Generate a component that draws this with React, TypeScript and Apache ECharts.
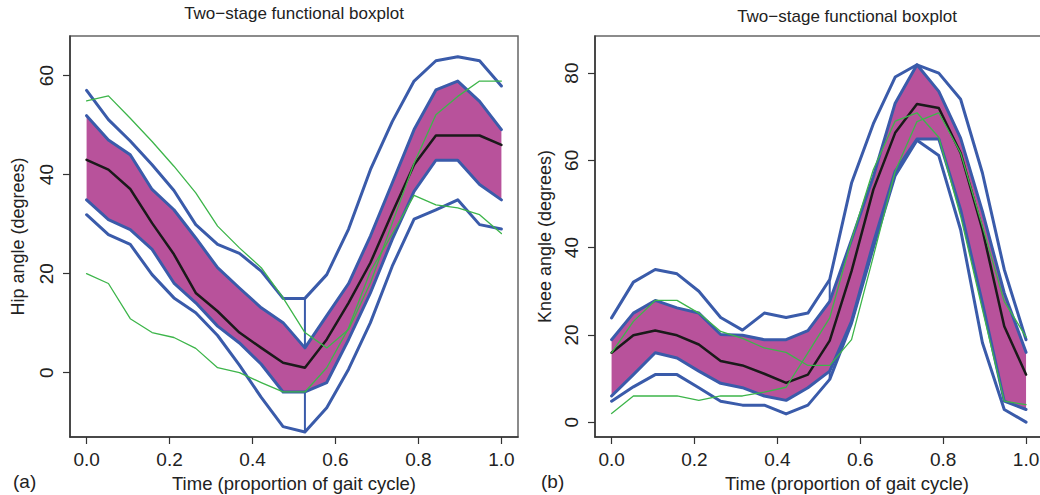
import React, { useEffect, useRef } from "react";
import * as echarts from "echarts";

const timePoints = [0, 0.05263, 0.10526, 0.15789, 0.21053, 0.26316, 0.31579, 0.36842, 0.42105, 0.47368, 0.52632, 0.57895, 0.63158, 0.68421, 0.73684, 0.78947, 0.84211, 0.89474, 0.94737, 1];
const xTicks = [0, 0.2, 0.4, 0.6, 0.8, 1.0];
const hipTicks = [0, 20, 40, 60];
const kneeTicks = [0, 20, 40, 60, 80];
const whiskerIndex = 10;

const hipUpperFence = [57.0, 51.1, 46.8, 42.0, 36.8, 29.9, 25.9, 24.1, 20.5, 15.0, 15.0, 19.8, 29.0, 41.0, 50.7, 58.9, 63.0, 63.8, 63.0, 57.9];
const hipBoxUpper = [51.9, 47.0, 44.0, 37.0, 32.9, 27.2, 21.2, 17.1, 13.1, 10.1, 5.0, 11.5, 18.0, 27.6, 38.3, 49.1, 57.1, 58.9, 54.8, 49.1];
const hipMedian = [43.0, 41.0, 37.1, 30.2, 23.9, 16.1, 12.4, 8.1, 5.0, 2.0, 1.0, 6.7, 14.1, 22.2, 32.3, 42.0, 47.9, 47.9, 47.9, 46.0];
const hipBoxLower = [34.9, 30.9, 28.9, 24.9, 18.1, 14.1, 9.4, 6.0, 1.7, -3.9, -3.9, -2.0, 6.7, 16.1, 26.9, 36.6, 42.9, 42.9, 38.0, 34.9];
const hipLowerFence = [31.9, 27.9, 25.9, 19.8, 15.1, 12.1, 7.5, 1.5, -5.0, -10.9, -12.0, -7.1, 0.7, 10.1, 21.5, 31.0, 32.9, 34.9, 29.9, 29.0];
const hipOutlier1 = [54.9, 55.9, 51.4, 46.7, 41.7, 36.3, 29.6, 25.2, 21.2, 15.1, 8.1, 5.0, 8.7, 18.1, 30.2, 42.3, 52.1, 55.8, 58.9, 58.9];
const hipOutlier2 = [20.0, 18.0, 10.9, 8.1, 7.1, 4.9, 1.0, 0.0, -2.0, -3.9, -3.9, 1.0, 9.0, 20.5, 28.0, 35.8, 33.9, 33.3, 31.9, 28.1];

const kneeUpperFence = [23.9, 32.1, 35.0, 34.0, 30.0, 24.0, 21.1, 25.0, 24.0, 25.0, 32.7, 54.8, 68.4, 79.1, 81.9, 80.0, 74.0, 57.1, 35.0, 18.9];
const kneeBoxUpper = [18.9, 25.0, 27.9, 26.2, 25.0, 20.1, 19.9, 18.9, 18.9, 21.0, 27.7, 41.8, 56.3, 73.1, 81.9, 75.8, 65.1, 48.3, 29.6, 16.0];
const kneeMedian = [15.9, 19.9, 21.0, 19.9, 17.8, 14.0, 13.0, 11.1, 9.0, 10.9, 18.7, 34.6, 53.3, 66.3, 72.9, 72.0, 61.7, 44.1, 22.0, 10.9];
const kneeBoxLower = [6.0, 10.9, 15.9, 14.7, 11.7, 8.9, 7.9, 6.0, 5.0, 7.9, 11.7, 23.1, 41.1, 57.5, 64.9, 64.9, 48.7, 27.3, 4.8, 2.9];
const kneeLowerFence = [4.8, 8.1, 10.9, 10.9, 7.9, 4.8, 3.9, 3.9, 1.9, 3.9, 9.8, 22.7, 40.0, 56.5, 64.6, 61.1, 44.1, 18.2, 2.9, 0.0];
const kneeOutlier1 = [15.9, 23.1, 27.9, 27.9, 25.0, 20.8, 19.2, 17.0, 16.0, 13.0, 13.0, 18.9, 38.0, 57.5, 68.9, 70.9, 61.7, 44.9, 27.7, 19.5];
const kneeOutlier2 = [2.0, 6.0, 6.0, 6.0, 5.0, 6.0, 6.0, 6.9, 8.0, 15.9, 23.9, 41.8, 57.9, 69.0, 70.9, 65.3, 47.2, 25.8, 4.8, 4.0];

const MAGENTA = "#B8529B";
const BLUE = "#3A5BAA";
const GREEN = "#3DB54A";
const BLACK = "#1a1a1a";
const TEXT = "#222";
const FONT = "'Liberation Sans', Arial, Helvetica, sans-serif";

const pairs = (ys: number[]) => timePoints.map((t, i) => [t, ys[i]]);

function lineSeries(idx: number, ys: number[], color: string, width: number, z = 3) {
  return {
    type: "line",
    xAxisIndex: idx,
    yAxisIndex: idx,
    data: pairs(ys),
    symbol: "none",
    silent: true,
    z,
    lineStyle: { color, width, join: "round", cap: "round" },
  };
}

function whisker(idx: number, from: number[], to: number[]) {
  const t = timePoints[whiskerIndex];
  return {
    type: "line",
    xAxisIndex: idx,
    yAxisIndex: idx,
    data: [[t, from[whiskerIndex]], [t, to[whiskerIndex]]],
    symbol: "none",
    silent: true,
    z: 3,
    lineStyle: { color: BLUE, width: 2 },
  };
}

function band(idx: number, lower: number[], upper: number[]) {
  return {
    type: "custom",
    xAxisIndex: idx,
    yAxisIndex: idx,
    silent: true,
    z: 1,
    data: timePoints.map((t, i) => [t, lower[i], upper[i]]),
    encode: { x: 0, y: [1, 2] },
    renderItem: (params: any, api: any) => {
      if (params.dataIndex !== 0) return null;
      const top = timePoints.map((t, i) => api.coord([t, upper[i]]));
      const bot = timePoints.map((t, i) => api.coord([t, lower[i]])).reverse();
      return {
        type: "polygon",
        shape: { points: top.concat(bot) },
        style: { fill: MAGENTA, stroke: "none" },
      };
    },
  };
}

function xAxis(gridIndex: number, max: number) {
  return {
    gridIndex,
    type: "value",
    min: -0.04,
    max,
    splitLine: { show: false },
    axisLine: { show: true, onZero: false, lineStyle: { color: "#333", width: 1.5 } },
    axisTick: { show: true, length: 7, customValues: xTicks, lineStyle: { color: "#333", width: 1.2 } },
    axisLabel: {
      customValues: xTicks,
      formatter: (v: number) => v.toFixed(1),
      fontSize: 19,
      fontFamily: FONT,
      color: TEXT,
      margin: 13,
    },
    name: "Time (proportion of gait cycle)",
    nameLocation: "middle",
    nameGap: 37,
    nameTextStyle: { fontSize: 18.5, fontFamily: FONT, color: TEXT },
  };
}

function yAxis(gridIndex: number, min: number, max: number, ticks: number[], name: string, gap: number) {
  return {
    gridIndex,
    type: "value",
    min,
    max,
    splitLine: { show: false },
    axisLine: { show: true, onZero: false, lineStyle: { color: "#333", width: 1.5 } },
    axisTick: { show: true, length: 7, customValues: ticks, lineStyle: { color: "#333", width: 1.2 } },
    axisLabel: {
      customValues: ticks,
      rotate: 90,
      fontSize: 19,
      fontFamily: FONT,
      color: TEXT,
      margin: 14,
    },
    name,
    nameLocation: "middle",
    nameRotate: 90,
    nameGap: gap,
    nameTextStyle: { fontSize: 18, fontFamily: FONT, color: TEXT },
  };
}

function panelSeries(idx: number, uf: number[], bu: number[], med: number[], bl: number[], lf: number[], o1: number[], o2: number[]) {
  return [
    band(idx, bl, bu),
    lineSeries(idx, uf, BLUE, 3),
    lineSeries(idx, lf, BLUE, 3),
    whisker(idx, bu, uf),
    whisker(idx, bl, lf),
    lineSeries(idx, bu, BLUE, 3),
    lineSeries(idx, bl, BLUE, 3),
    lineSeries(idx, med, BLACK, 2.5, 4),
    lineSeries(idx, o1, GREEN, 1.3, 5),
    lineSeries(idx, o2, GREEN, 1.3, 5),
  ];
}

export default function App() {
  const ref = useRef<HTMLDivElement>(null);
  useEffect(() => {
    if (!ref.current) return;
    const chart = echarts.init(ref.current, undefined, { renderer: "svg" });
    const titleText = "Two\u2212stage functional boxplot";
    chart.setOption({
      animation: false,
      backgroundColor: "#fff",
      grid: [
        { left: 70, top: 36, width: 448, height: 401, show: true, borderColor: "#666", borderWidth: 1.5, backgroundColor: "transparent", outerBoundsMode: "none", containLabel: false },
        { left: 595, top: 36, width: 504, height: 401, show: true, borderColor: "#666", borderWidth: 1.5, backgroundColor: "transparent", outerBoundsMode: "none", containLabel: false },
      ],
      xAxis: [xAxis(0, 1.04), xAxis(1, 1.176)],
      yAxis: [
        yAxis(0, -13, 68, hipTicks, "Hip angle (degrees)", 43),
        yAxis(1, -3.4, 88.5, kneeTicks, "Knee angle (degrees)", 41),
      ],
      graphic: [
        { type: "text", x: 294, y: 13, style: { text: titleText, textAlign: "center", textVerticalAlign: "middle", fontSize: 17, fontFamily: FONT, fill: TEXT } },
        { type: "text", x: 847, y: 16, style: { text: titleText, textAlign: "center", textVerticalAlign: "middle", fontSize: 17, fontFamily: FONT, fill: TEXT } },
        { type: "text", x: 13, y: 481, style: { text: "(a)", textAlign: "left", textVerticalAlign: "middle", fontSize: 19, fontFamily: FONT, fill: TEXT } },
        { type: "text", x: 541, y: 481, style: { text: "(b)", textAlign: "left", textVerticalAlign: "middle", fontSize: 19, fontFamily: FONT, fill: TEXT } },
      ],
      series: [
        ...panelSeries(0, hipUpperFence, hipBoxUpper, hipMedian, hipBoxLower, hipLowerFence, hipOutlier1, hipOutlier2),
        ...panelSeries(1, kneeUpperFence, kneeBoxUpper, kneeMedian, kneeBoxLower, kneeLowerFence, kneeOutlier1, kneeOutlier2),
      ],
    });
    return () => chart.dispose();
  }, []);
  return <div ref={ref} style={{ position: "absolute", left: 0, top: 0, width: 1040, height: 495 }} />;
}
